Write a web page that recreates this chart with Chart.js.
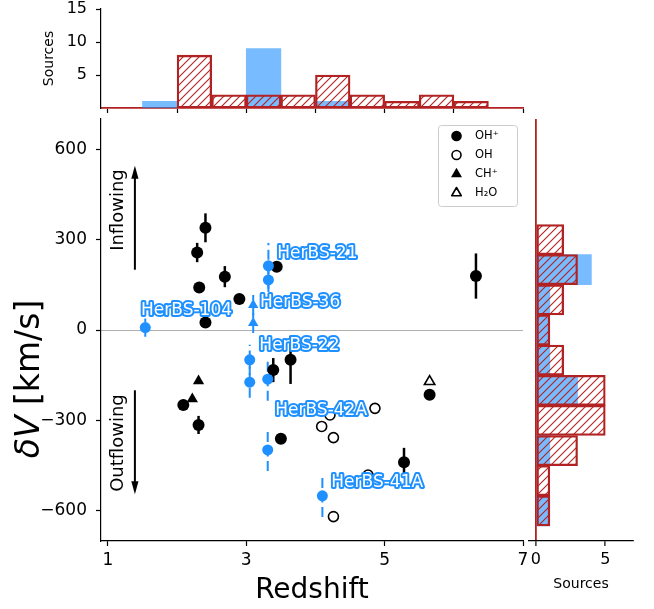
<!DOCTYPE html>
<html>
<head>
<meta charset="utf-8">
<script src="https://cdn.jsdelivr.net/npm/chart.js@4.4.0/dist/chart.umd.min.js"></script>
<style>
  html, body { margin: 0; padding: 0; background: #fff; }
  #wrap { position: relative; width: 654px; height: 609px; }
  #wrap canvas { position: absolute; left: 0; top: 0; }
</style>
</head>
<body>
<div id="wrap">
  <canvas id="mainChart" width="654" height="609"></canvas>
  <canvas id="topHist" width="654" height="609"></canvas>
  <canvas id="sideHist" width="654" height="609"></canvas>
</div>
<script>
// OH+ detections (filled circles)
const ohpZ = [2.41, 2.29, 2.32, 2.69, 2.90, 2.41, 3.44, 3.64, 3.39, 2.09, 2.31, 3.50, 5.28, 5.65, 6.32];
const ohpV = [339, 257, 141, 177, 103, 25, 210, -99, -133, -249, -315, -361, -439, -215, 179];
const ohpErr = [48, 32, 0, 35, 0, 0, 0, 80, 40, 0, 30, 0, 48, 0, 75];

// OH (open circles)
const ohZ = [4.09, 4.26, 4.21, 4.86, 4.76, 4.26];
const ohV = [-320, -357, -282, -260, -481, -619];

// CH+ (filled triangles) and H2O (open triangle)
const chpZ = [2.22, 2.31];
const chpV = [-229, -169];
const h2oZ = [5.65];
const h2oV = [-171];

// HerBS sources
const herbsCircZ = [1.54, 3.32, 3.32, 3.05, 3.05, 3.31, 3.31, 4.10];
const herbsCircV = [8, 213, 166, -99, -173, -163, -398, -550];
const herbsCircErr = [30, 76, 40, 50, 52, 72, 70, 70];
const herbsTriZ = [3.10, 3.10];
const herbsTriV = [83, 23];
const herbsTriErr = [33, 33];

// name tags (left edge, vertical centre) in data units
const herbsNames = ['HerBS-104', 'HerBS-21', 'HerBS-36', 'HerBS-22', 'HerBS-42A', 'HerBS-41A'];
const herbsNameZ = [1.45, 3.42, 3.17, 3.16, 3.39, 4.20];
const herbsNameV = [66, 255, 90, -53, -268, -507];

// histograms
const zBinCenters = [1.75, 2.25, 2.75, 3.25, 3.75, 4.25, 4.75, 5.25, 5.75, 6.25];
const zCountsAll = [0, 8, 2, 2, 2, 5, 2, 1, 2, 1];
const zCountsHerbs = [1, 0, 0, 9, 0, 1, 0, 0, 0, 0];
const vBinCenters = [300, 200, 100, 0, -100, -200, -300, -400, -500, -600];
const vCountsAll = [2, 3, 2, 1, 2, 5, 5, 3, 1, 1];
const vCountsHerbs = [0, 4, 1, 1, 1, 3, 0, 1, 0, 1];

// ticks
const zTicks = [1, 3, 5, 7];
const vTicks = [-600, -300, 0, 300, 600];
const zHistTicks = [1, 2, 3, 4, 5, 6, 7];
const topCountTicks = [5, 10, 15];
const sideCountTicks = [0, 5];

Chart.defaults.font.family = "'DejaVu Sans', sans-serif";
Chart.defaults.color = '#000';

const RED = '#b22222';
const BLUE = '#1e90ff';
const BLUE_FILL = 'rgba(30, 144, 255, 0.6)';

const pts = (xs, ys) => xs.map((x, i) => ({ x: x, y: ys[i] }));
const setTicks = list => axis => { axis.ticks = list.map(v => ({ value: v })); };
const minus = v => String(v).replace('-', '\u2212');
// fixed-size axis boxes, no extra room for edge labels
const fixWidth = w => axis => { axis.width = w; axis.paddingTop = 0; axis.paddingBottom = 0; };
const fixHeight = h => axis => { axis.height = h; axis.paddingLeft = 0; axis.paddingRight = 0; };

function hatch(ctx) {
  const s = 8;
  const c = document.createElement('canvas');
  c.width = s; c.height = s;
  const g = c.getContext('2d');
  g.strokeStyle = RED;
  g.lineWidth = 1.1;
  g.beginPath();
  g.moveTo(0, s); g.lineTo(s, 0);
  g.moveTo(-s / 2, s / 2); g.lineTo(s / 2, -s / 2);
  g.moveTo(s / 2, s * 1.5); g.lineTo(s * 1.5, s / 2);
  g.stroke();
  return ctx.createPattern(c, 'repeat');
}

function drawMarker(ctx, style, x, y, r, fill, stroke, lw) {
  ctx.beginPath();
  if (style === 'circle') {
    ctx.arc(x, y, r, 0, Math.PI * 2);
  } else {
    ctx.moveTo(x, y - r);
    ctx.lineTo(x + r * Math.sin(Math.PI * 2 / 3), y + r / 2);
    ctx.lineTo(x - r * Math.sin(Math.PI * 2 / 3), y + r / 2);
    ctx.closePath();
  }
  if (fill) { ctx.fillStyle = fill; ctx.fill(); }
  if (stroke) { ctx.strokeStyle = stroke; ctx.lineWidth = lw; ctx.stroke(); }
}

const legendItems = [
  { text: 'OH\u207A', style: 'circle', open: false },
  { text: 'OH', style: 'circle', open: true },
  { text: 'CH\u207A', style: 'triangle', open: false },
  { text: 'H\u2082O', style: 'triangle', open: true }
];

// error bars, arrows, name tags, legend and the y label
const overlay = {
  id: 'overlay',
  beforeDatasetsDraw(chart) {
    const { ctx, scales: { x, y } } = chart;
    chart.data.datasets.forEach(ds => {
      if (!ds.errors) return;
      ctx.save();
      ctx.strokeStyle = ds.errColor;
      ctx.lineWidth = ds.errWidth;
      ctx.setLineDash(ds.errDash || []);
      ds.data.forEach((p, i) => {
        const e = ds.errors[i];
        if (!e) return;
        const px = x.getPixelForValue(p.x);
        ctx.beginPath();
        ctx.moveTo(px, y.getPixelForValue(p.y - e));
        ctx.lineTo(px, y.getPixelForValue(p.y + e));
        ctx.stroke();
      });
      ctx.restore();
    });
  },
  afterDatasetsDraw(chart) {
    const { ctx, scales: { x, y } } = chart;
    ctx.save();

    // inflow / outflow arrows
    const ax = x.getPixelForValue(1.39);
    [[200, 545], [-200, -545]].forEach(([from, to]) => {
      const y0 = y.getPixelForValue(from);
      const y1 = y.getPixelForValue(to);
      const dir = y1 < y0 ? 1 : -1;
      ctx.strokeStyle = '#000';
      ctx.lineWidth = 2;
      ctx.beginPath();
      ctx.moveTo(ax, y0);
      ctx.lineTo(ax, y1 + dir * 10);
      ctx.stroke();
      ctx.fillStyle = '#000';
      ctx.beginPath();
      ctx.moveTo(ax, y1);
      ctx.lineTo(ax + 3.6, y1 + dir * 13);
      ctx.lineTo(ax - 3.6, y1 + dir * 13);
      ctx.closePath();
      ctx.fill();
    });
    ctx.font = "18px 'DejaVu Sans'";
    ctx.textAlign = 'center';
    ctx.textBaseline = 'middle';
    [['Inflowing', 398], ['Outflowing', -375]].forEach(([t, v]) => {
      ctx.save();
      ctx.translate(x.getPixelForValue(1.15), y.getPixelForValue(v));
      ctx.rotate(-Math.PI / 2);
      ctx.fillStyle = '#000';
      ctx.fillText(t, 0, 0);
      ctx.restore();
    });

    // source names
    ctx.font = "17px 'DejaVu Sans'";
    ctx.textAlign = 'left';
    ctx.lineJoin = 'round';
    herbsNames.forEach((name, i) => {
      const px = x.getPixelForValue(herbsNameZ[i]) + 2;
      const py = y.getPixelForValue(herbsNameV[i]);
      ctx.strokeStyle = BLUE;
      ctx.lineWidth = 4;
      ctx.strokeText(name, px, py);
      ctx.fillStyle = '#fff';
      ctx.fillText(name, px, py);
    });

    // legend
    const lx = 438, ly = 125, lw = 79, lh = 81;
    ctx.beginPath();
    ctx.roundRect(lx + 0.5, ly + 0.5, lw, lh, 3);
    ctx.fillStyle = 'rgba(255,255,255,0.8)';
    ctx.fill();
    ctx.strokeStyle = '#cccccc';
    ctx.lineWidth = 1;
    ctx.stroke();
    ctx.font = "11.5px 'DejaVu Sans'";
    ctx.textBaseline = 'middle';
    legendItems.forEach((it, i) => {
      const cy = ly + 11 + i * 19;
      const r = it.style === 'circle' ? 5.3 : 6.3;
      drawMarker(ctx, it.style, lx + 18.5, cy, it.open ? r - 0.8 : r,
        it.open ? '#fff' : '#000', it.open ? '#000' : null, 1.6);
      ctx.fillStyle = '#000';
      ctx.fillText(it.text, lx + 37, cy);
    });

    // y label: italic δV, upright units
    ctx.save();
    ctx.translate(30, 379);
    ctx.rotate(-Math.PI / 2);
    ctx.textBaseline = 'middle';
    ctx.textAlign = 'left';
    const f1 = "italic 33px 'DejaVu Sans'";
    const f2 = "33px 'DejaVu Sans'";
    ctx.font = f1;
    const w1 = ctx.measureText('\u03b4V').width;
    ctx.font = f2;
    const w2 = ctx.measureText(' [km/s]').width;
    const sx = -(w1 + w2) / 2;
    ctx.fillStyle = '#000';
    ctx.font = f1;
    ctx.fillText('\u03b4V', sx, 0);
    ctx.font = f2;
    ctx.fillText(' [km/s]', sx + w1, 0);
    ctx.restore();

    ctx.restore();
  }
};

// main scatter panel
new Chart(document.getElementById('mainChart'), {
  type: 'scatter',
  data: {
    datasets: [
      { label: 'OH+', data: pts(ohpZ, ohpV), errors: ohpErr, errColor: '#000', errWidth: 2.5,
        pointStyle: 'circle', pointRadius: 6, backgroundColor: '#000', borderWidth: 0, order: 5 },
      { label: 'OH', data: pts(ohZ, ohV), pointStyle: 'circle', pointRadius: 5,
        backgroundColor: '#fff', borderColor: '#000', borderWidth: 1.6, order: 4 },
      { label: 'CH+', data: pts(chpZ, chpV), pointStyle: 'triangle', pointRadius: 6.5,
        backgroundColor: '#000', borderWidth: 0, order: 4 },
      { label: 'H2O', data: pts(h2oZ, h2oV), pointStyle: 'triangle', pointRadius: 6,
        backgroundColor: '#fff', borderColor: '#000', borderWidth: 1.6, order: 4 },
      { label: 'HerBS circles', data: pts(herbsCircZ, herbsCircV), errors: herbsCircErr,
        errColor: BLUE, errWidth: 2, errDash: [10, 4.5],
        pointStyle: 'circle', pointRadius: 5.5, backgroundColor: BLUE, borderWidth: 0, order: 1 },
      { label: 'HerBS triangles', data: pts(herbsTriZ, herbsTriV), errors: herbsTriErr,
        errColor: BLUE, errWidth: 2, errDash: [10, 4.5],
        pointStyle: 'triangle', pointRadius: 6, backgroundColor: BLUE, borderWidth: 0, order: 1 }
    ]
  },
  options: {
    responsive: false,
    animation: false,
    events: [],
    layout: { padding: { top: 119, right: 131, bottom: 0, left: 0 } },
    plugins: { legend: { display: false }, tooltip: { enabled: false } },
    scales: {
      x: {
        type: 'linear', min: 0.9, max: 7,
        afterBuildTicks: setTicks(zTicks),
        afterFit: fixHeight(68),
        ticks: { font: { size: 17 }, padding: 4, maxRotation: 0 },
        grid: { drawOnChartArea: false, tickLength: 5, tickColor: '#000', tickWidth: 1.2 },
        border: { color: '#000', width: 1.2 },
        title: { display: true, text: 'Redshift', font: { size: 28 }, padding: { top: 0, bottom: 1 } }
      },
      y: {
        type: 'linear', min: -700, max: 700,
        afterBuildTicks: setTicks(vTicks),
        afterFit: fixWidth(101),
        ticks: { font: { size: 17 }, padding: 9, callback: minus },
        grid: {
          color: c => (c.tick && c.tick.value === 0 ? '#b0b0b0' : 'transparent'),
          lineWidth: 1, tickLength: 5, tickColor: '#000', tickWidth: 1.2
        },
        border: { color: '#000', width: 1.2 }
      }
    }
  },
  plugins: [overlay]
});

// redshift histogram on top
const topCanvas = document.getElementById('topHist');
new Chart(topCanvas, {
  type: 'bar',
  data: {
    datasets: [
      { label: 'all', data: pts(zBinCenters, zCountsAll).filter(p => p.y > 0),
        backgroundColor: hatch(topCanvas.getContext('2d')), borderColor: RED, borderWidth: 1.6,
        borderSkipped: false, grouped: false, barPercentage: 1, categoryPercentage: 1, order: 0 },
      { label: 'HerBS', data: pts(zBinCenters, zCountsHerbs).filter(p => p.y > 0),
        backgroundColor: BLUE_FILL, borderWidth: 0,
        grouped: false, barPercentage: 1, categoryPercentage: 1, order: 1 }
    ]
  },
  options: {
    responsive: false,
    animation: false,
    events: [],
    layout: { padding: { top: 9, right: 131, bottom: 492, left: 0 } },
    plugins: { legend: { display: false }, tooltip: { enabled: false } },
    scales: {
      x: {
        type: 'linear', min: 0.9, max: 7, offset: false,
        afterBuildTicks: setTicks(zHistTicks),
        afterFit: fixHeight(9),
        ticks: { display: false },
        grid: { offset: false, drawOnChartArea: false, tickLength: 5, tickColor: '#000', tickWidth: 1.2 },
        border: { color: RED, width: 1.8 }
      },
      y: {
        type: 'linear', min: 0, max: 15,
        afterBuildTicks: setTicks(topCountTicks),
        afterFit: fixWidth(101),
        ticks: { font: { size: 16 }, padding: 9 },
        grid: { drawOnChartArea: false, tickLength: 5, tickColor: '#000', tickWidth: 1.2 },
        border: { color: '#000', width: 1.2 },
        title: { display: true, text: 'Sources', font: { size: 14 }, padding: { top: 41, bottom: 0 } }
      }
    }
  }
});

// velocity histogram on the right
const sideCanvas = document.getElementById('sideHist');
new Chart(sideCanvas, {
  type: 'bar',
  data: {
    datasets: [
      { label: 'all', data: pts(vCountsAll, vBinCenters).filter(p => p.x > 0),
        backgroundColor: hatch(sideCanvas.getContext('2d')), borderColor: RED, borderWidth: 1.6,
        borderSkipped: false, grouped: false, barPercentage: 1, categoryPercentage: 1, order: 0 },
      { label: 'HerBS', data: pts(vCountsHerbs, vBinCenters).filter(p => p.x > 0),
        backgroundColor: BLUE_FILL, borderWidth: 0,
        grouped: false, barPercentage: 1, categoryPercentage: 1, order: 1 }
    ]
  },
  options: {
    indexAxis: 'y',
    responsive: false,
    animation: false,
    events: [],
    layout: { padding: { top: 119, right: 21, bottom: 0, left: 529 } },
    plugins: { legend: { display: false }, tooltip: { enabled: false } },
    scales: {
      y: { type: 'linear', min: -700, max: 700, offset: false, display: false, grid: { offset: false } },
      x: {
        type: 'linear', min: -0.5, max: 7,
        afterBuildTicks: setTicks(sideCountTicks),
        afterFit: fixHeight(68),
        ticks: { font: { size: 16 }, padding: 4 },
        grid: {
          color: c => (c.tick && c.tick.value === 0 ? RED : 'transparent'),
          lineWidth: 1.8, tickLength: 5, tickColor: '#000', tickWidth: 1.2
        },
        border: { color: '#000', width: 1.2 },
        title: { display: true, text: 'Sources', font: { size: 14 }, padding: { top: 0, bottom: 16 } }
      }
    }
  }
});
</script>
</body>
</html>
